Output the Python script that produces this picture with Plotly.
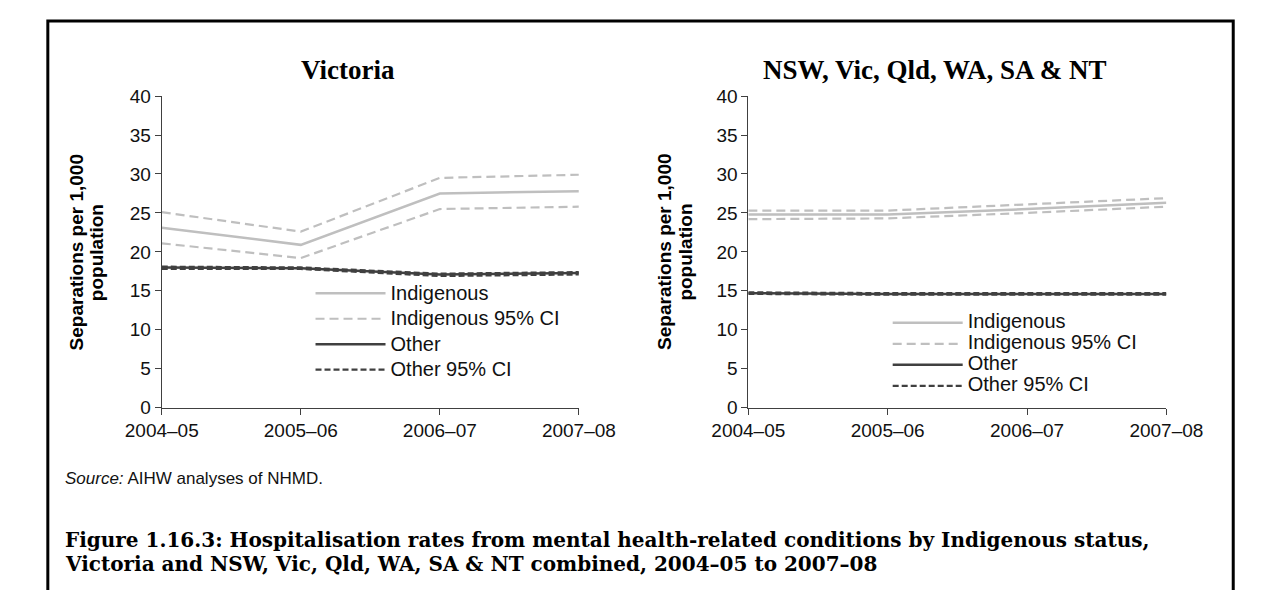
import plotly.graph_objects as go

# ---------------- data ----------------
years = ["2004–05", "2005–06", "2006–07", "2007–08"]

vic_indig = [23.1, 20.9, 27.5, 27.8]
vic_indig_hi = [25.1, 22.6, 29.5, 29.9]
vic_indig_lo = [21.1, 19.2, 25.5, 25.8]
vic_other = [18.0, 17.9, 17.1, 17.3]
vic_other_hi = [18.1, 18.0, 17.2, 17.4]
vic_other_lo = [17.8, 17.8, 16.9, 17.1]

all_indig = [24.8, 24.8, 25.5, 26.3]
all_indig_hi = [25.3, 25.3, 26.1, 26.9]
all_indig_lo = [24.2, 24.3, 25.0, 25.8]
all_other = [14.7, 14.6, 14.6, 14.6]
all_other_hi = [14.8, 14.7, 14.7, 14.7]
all_other_lo = [14.6, 14.5, 14.5, 14.5]

series_names = ["Indigenous", "Indigenous 95% CI", "Other", "Other 95% CI"]
panel_titles = ["Victoria", "NSW, Vic, Qld, WA, SA & NT"]
y_title_lines = ["Separations per 1,000", "population"]
source_text = "<i>Source:</i> AIHW analyses of NHMD."
caption_1 = "Figure 1.16.3: Hospitalisation rates from mental health-related conditions by Indigenous status,"
caption_2 = "Victoria and NSW, Vic, Qld, WA, SA & NT combined, 2004–05 to 2007–08"

# ---------------- style ----------------
W, H = 1266, 590
SANS = "Liberation Sans, Arial, sans-serif"
SERIF = "Liberation Serif, Times New Roman, serif"
WIDESERIF = "DejaVu Serif, Liberation Serif, serif"
LIGHT = "#BFBFBF"
DARK = "#404040"
AX = "#404040"


def px_x(p):
    return p / W


def px_y(p):
    return 1 - p / H


def leg_label(s):
    return '<span style="font-size:20px">' + s + "</span>"


fig = go.Figure()

panels = [
    (vic_indig, vic_indig_hi, vic_indig_lo, vic_other, vic_other_hi, vic_other_lo, "x", "y", "legend"),
    (all_indig, all_indig_hi, all_indig_lo, all_other, all_other_hi, all_other_lo, "x2", "y2", "legend2"),
]

for (ind, ihi, ilo, oth, ohi, olo, xa, ya, lg) in panels:
    specs = [
        (series_names[0], ind, LIGHT, "solid", 2.5, True, "g1"),
        (series_names[1], ihi, LIGHT, "9px,5px", 2.2, True, "g2"),
        (series_names[1], ilo, LIGHT, "9px,5px", 2.2, False, "g2"),
        (series_names[2], oth, DARK, "solid", 2.5, True, "g3"),
        (series_names[3], ohi, DARK, "6px,3px", 2.2, True, "g4"),
        (series_names[3], olo, DARK, "6px,3px", 2.2, False, "g4"),
    ]
    for name, vals, col, dash, w, show, grp in specs:
        fig.add_trace(go.Scatter(
            x=years, y=vals, name=leg_label(name), mode="lines",
            line=dict(color=col, dash=dash, width=w),
            xaxis=xa, yaxis=ya, legend=lg, legendgroup=grp + xa,
            showlegend=show, hoverinfo="skip",
        ))

xcommon = dict(
    type="category", range=[0, 3], showline=True, linecolor=AX, linewidth=1,
    ticks="outside", ticklen=6, tickcolor=AX, tickwidth=1, showgrid=False,
    zeroline=False, tickfont=dict(family=SANS, size=19, color="#111111"),
    fixedrange=True,
)
ycommon = dict(
    range=[0, 40], dtick=5, showline=True, linecolor=AX, linewidth=1,
    ticks="outside", ticklen=6, tickcolor=AX, tickwidth=1, showgrid=False,
    zeroline=False, tickfont=dict(family=SANS, size=19, color="#111111"),
    fixedrange=True,
)

ydom = [px_y(404), px_y(81)]
fig.update_layout(
    width=W, height=H,
    margin=dict(l=0, r=0, t=0, b=0),
    paper_bgcolor="white", plot_bgcolor="white",
    xaxis=dict(domain=[px_x(124), px_x(567)], anchor="y", **xcommon),
    yaxis=dict(domain=ydom, anchor="x", **ycommon),
    xaxis2=dict(domain=[px_x(747), px_x(1191)], anchor="y2", **xcommon),
    yaxis2=dict(domain=ydom, anchor="x2", **ycommon),
    legend=dict(
        x=px_x(282), y=px_y(267), xanchor="left", yanchor="top",
        font=dict(family=SANS, size=17.3, color="#111111"),
        bgcolor="rgba(0,0,0,0)", traceorder="grouped", tracegroupgap=0,
        itemwidth=70, itemclick=False, itemdoubleclick=False,
    ),
    legend2=dict(
        x=px_x(895), y=px_y(300), xanchor="left", yanchor="top",
        font=dict(family=SANS, size=13.85, color="#111111"),
        bgcolor="rgba(0,0,0,0)", traceorder="grouped", tracegroupgap=0,
        itemwidth=70, itemclick=False, itemdoubleclick=False,
    ),
    showlegend=True,
)

annotations = [
    dict(text="<b>" + panel_titles[0] + "</b>", x=px_x(322), y=px_y(54),
         xref="paper", yref="paper", showarrow=False, xanchor="center", yanchor="middle",
         font=dict(family=SERIF, size=27, color="black")),
    dict(text="<b>" + panel_titles[1] + "</b>", x=px_x(945), y=px_y(54),
         xref="paper", yref="paper", showarrow=False, xanchor="center", yanchor="middle",
         font=dict(family=SERIF, size=27, color="black")),
    dict(text=source_text, x=px_x(19), y=px_y(477),
         xref="paper", yref="paper", showarrow=False, xanchor="left", yanchor="middle",
         font=dict(family=SANS, size=17, color="#111111")),
    dict(text="<b>" + caption_1 + "</b>", x=px_x(19), y=px_y(541),
         xref="paper", yref="paper", showarrow=False, xanchor="left", yanchor="middle",
         font=dict(family=WIDESERIF, size=20, color="black")),
    dict(text="<b>" + caption_2 + "</b>", x=px_x(19), y=px_y(566),
         xref="paper", yref="paper", showarrow=False, xanchor="left", yanchor="middle",
         font=dict(family=WIDESERIF, size=20, color="black")),
]
# y-axis titles (two lines, tight spacing as in the reference)
for xc1, xc2 in [(33, 55), (658, 680)]:
    for line, xc in zip(y_title_lines, (xc1, xc2)):
        annotations.append(dict(
            text="<b>" + line + "</b>", x=px_x(xc), y=px_y(243), textangle=-90,
            xref="paper", yref="paper", showarrow=False, xanchor="center", yanchor="middle",
            font=dict(family=SANS, size=19, color="black")))
fig.update_layout(annotations=annotations)

# outer frame of the figure
fig.add_shape(type="rect", xref="paper", yref="paper",
              x0=px_x(3), x1=px_x(1262), y0=-0.2, y1=px_y(3),
              line=dict(color="black", width=3), fillcolor="rgba(0,0,0,0)")

fig.write_html("out.html", config={"displayModeBar": False})
